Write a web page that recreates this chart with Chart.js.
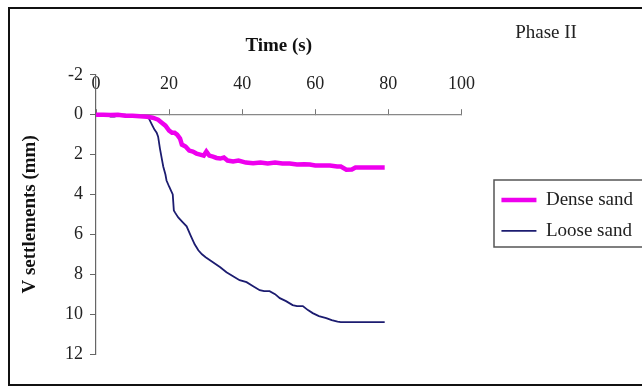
<!DOCTYPE html>
<html>
<head>
<meta charset="utf-8">
<script src="https://cdn.jsdelivr.net/npm/chart.js@4.4.1/dist/chart.umd.min.js"></script>
<style>
  html, body { margin: 0; padding: 0; background: #fff; }
  #c { display: block; }
</style>
</head>
<body>
<canvas id="c" width="642" height="387"></canvas>
<script>
// ---- data ----
const xTitle = "Time (s)";
const yTitle = "V settlements (mm)";
const phaseLabel = "Phase II";
const seriesNames = ["Dense sand", "Loose sand"];

const denseTime = [0,2,4,6,8,10,12,14,15.5,17,18,19,20,20.8,21.5,22.2,23,23.5,24.5,25.5,26.5,27.5,28.5,29.5,30.2,31,32,33,34,35,36,37.5,39,41,43,45,47,49,51,53,55,57,58.5,60,62,64,66,67,68.5,70,71,73,75,77,79];
const denseSettle = [0,0,0.02,0,0.05,0.05,0.08,0.1,0.15,0.25,0.4,0.55,0.8,0.9,0.9,1.0,1.2,1.5,1.6,1.8,1.85,1.95,2.0,2.05,1.85,2.05,2.1,2.17,2.2,2.15,2.3,2.35,2.3,2.4,2.43,2.4,2.45,2.4,2.45,2.45,2.5,2.48,2.5,2.55,2.55,2.55,2.6,2.6,2.76,2.75,2.65,2.65,2.65,2.65,2.65];

const looseTime = [0,2,3,4,5,6,7,8,9,10,11,12,13,14,14.5,15.3,16,16.6,17,17.5,18,18.4,19,19.3,20,21,21.3,21.6,22.5,23.5,24.8,26,27,28,29,30,32,34,35.7,37.5,39.3,41.2,43,44.8,46,47.5,49,50.3,52,53.8,55,56.6,58,59.3,61,63,64.5,66.1,67,70,73,76,79];
const looseSettle = [0,0,0.02,0.1,0.1,0.05,0,0,0.05,0.05,0.05,0.08,0.08,0.1,0.2,0.5,0.75,0.9,1.1,1.7,2.2,2.6,3.0,3.3,3.6,4.0,4.8,4.9,5.15,5.35,5.6,6.1,6.5,6.8,7.0,7.15,7.4,7.65,7.9,8.1,8.3,8.4,8.6,8.8,8.85,8.85,9.0,9.2,9.35,9.55,9.6,9.6,9.8,9.95,10.1,10.2,10.3,10.38,10.4,10.4,10.4,10.4,10.4];

const xTicks = [0,20,40,60,80,100];
const yTicks = [-2,0,2,4,6,8,10,12];

// ---- build ----
const toPts = (xs, ys) => xs.map((x, i) => ({ x: x, y: ys[i] }));
const SERIF = "'Liberation Serif', 'Times New Roman', serif";

const framePlugin = {
  id: 'frame',
  beforeDraw(chart) {
    const ctx = chart.ctx;
    ctx.save();
    ctx.fillStyle = '#fff';
    ctx.fillRect(0, 0, chart.width, chart.height);
    ctx.restore();
  },
  afterDraw(chart) {
    const ctx = chart.ctx;
    ctx.save();
    // outer frame (left, top, bottom)
    ctx.strokeStyle = '#111';
    ctx.lineWidth = 2;
    ctx.beginPath();
    ctx.moveTo(chart.width + 2, 8);
    ctx.lineTo(9, 8);
    ctx.lineTo(9, 385);
    ctx.lineTo(chart.width + 2, 385);
    ctx.stroke();
    // legend frame
    ctx.strokeStyle = '#555';
    ctx.lineWidth = 1.5;
    ctx.strokeRect(494, 180, 150, 67);
    // phase label
    ctx.fillStyle = '#222';
    ctx.font = "19px " + SERIF;
    ctx.textAlign = 'center';
    ctx.textBaseline = 'middle';
    ctx.fillText(phaseLabel, 546, 33);
    ctx.restore();
  }
};

new Chart(document.getElementById('c'), {
  type: 'line',
  data: {
    datasets: [
      {
        label: seriesNames[0],
        data: toPts(denseTime, denseSettle),
        borderColor: '#ee00ee',
        backgroundColor: '#ee00ee',
        borderWidth: 4.5,
        pointRadius: 0,
        tension: 0,
        fill: false
      },
      {
        label: seriesNames[1],
        data: toPts(looseTime, looseSettle),
        borderColor: '#1c1c70',
        backgroundColor: '#1c1c70',
        borderWidth: 1.8,
        pointRadius: 0,
        tension: 0,
        fill: false
      }
    ]
  },
  options: {
    responsive: false,
    animation: false,
    devicePixelRatio: 1,
    layout: { padding: { left: 12, top: 20, right: -1, bottom: 33 } },
    plugins: {
      title: {
        display: true,
        text: xTitle,
        fullSize: false,
        color: '#111',
        font: { family: SERIF, size: 19, weight: 'bold' },
        padding: { top: 15, bottom: 17 }
      },
      legend: {
        display: true,
        position: 'right',
        align: 'start',
        maxWidth: 300,
        title: { display: true, text: ' ', font: { size: 12 }, padding: { top: 144, bottom: 0 } },
        labels: {
          usePointStyle: true,
          pointStyle: 'line',
          pointStyleWidth: 35,
          padding: 12,
          color: '#222',
          font: { family: SERIF, size: 19 }
        }
      },
      tooltip: { enabled: false }
    },
    scales: {
      x: {
        type: 'linear',
        position: { y: 0 },
        min: 0,
        max: 100,
        afterBuildTicks: (s) => { s.ticks = xTicks.map(v => ({ value: v })); },
        grid: { drawOnChartArea: false, drawTicks: true, tickLength: -6, color: '#777', tickColor: '#777' },
        border: { display: true, color: '#888', width: 1.2 },
        ticks: { color: '#222', padding: -35, font: { family: SERIF, size: 18 }, maxRotation: 0 }
      },
      y: {
        type: 'linear',
        position: 'left',
        reverse: true,
        min: -2,
        max: 12,
        afterBuildTicks: (s) => { s.ticks = yTicks.map(v => ({ value: v })); },
        afterFit: (s) => { s.width = 84; },
        grid: { drawOnChartArea: false, drawTicks: true, tickLength: 6, color: '#666', tickColor: '#666' },
        border: { display: true, color: '#666', width: 1.2 },
        ticks: { color: '#222', padding: 7, font: { family: SERIF, size: 18 } },
        title: {
          display: true,
          text: yTitle,
          color: '#111',
          font: { family: SERIF, size: 19, weight: 'bold' },
          padding: { top: 7, bottom: 0 }
        }
      },
      y2: {
        type: 'linear',
        position: 'right',
        display: true,
        grid: { display: false },
        border: { display: false },
        ticks: { display: false },
        afterFit: (s) => { s.width = 28; }
      }
    }
  },
  plugins: [framePlugin]
});
</script>
</body>
</html>
